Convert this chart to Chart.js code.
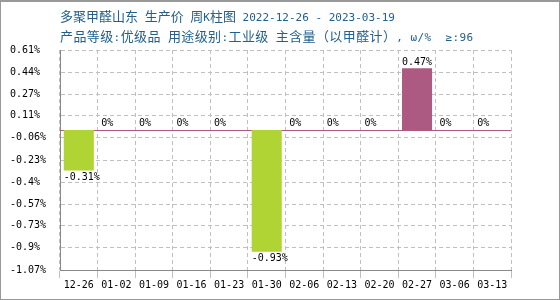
<!DOCTYPE html>
<html>
<head>
<meta charset="utf-8">
<script src="https://cdn.jsdelivr.net/npm/chart.js@4.4.0/dist/chart.umd.min.js"></script>
<style>
  body { margin: 0; background: #fff; }
  #wrap { position: relative; width: 560px; height: 300px; }
  #frame { position: absolute; left: 0; top: 0; width: 558px; height: 297px; border: 1px solid #999; border-top-width: 2px; pointer-events: none; }
  .title { position: absolute; left: 60px; color: #21608f; font-family: "Noto Sans CJK SC", sans-serif; font-size: 13px; white-space: pre; line-height: 16px; }
  .m { font-family: "DejaVu Sans Mono", monospace; font-size: 11px; }
</style>
</head>
<body>
<div id="wrap">
  <canvas id="weekly-chart" width="560" height="300"></canvas>
  <div class="title" style="top:8px">多聚甲醛山东<span class="m"> </span>生产价<span class="m"> </span>周<span class="m">K</span>柱图<span class="m"> 2022-12-26 - 2023-03-19</span></div>
  <div class="title" style="top:28px;letter-spacing:0.4px">产品等级<span class="m">:</span>优级品<span class="m"> </span>用途级别<span class="m">:</span>工业级<span class="m"> </span>主含量（以甲醛计）<span class="m">, ω/%  ≥:96</span></div>
  <div id="frame"></div>
</div>
<script>
const weekLabels = ['12-26', '01-02', '01-09', '01-16', '01-23', '01-30', '02-06', '02-13', '02-20', '02-27', '03-06', '03-13']
const weekChange = [-0.31, 0, 0, 0, 0, -0.93, 0, 0, 0, 0.47, 0, 0]
const yTicks = [-1.07, -0.9, -0.73, -0.57, -0.4, -0.23, -0.06, 0.11, 0.27, 0.44, 0.61]

const upColor = '#ad5a83'
const downColor = '#b0d434'
const gridColor = '#c0c0c0'
const monoFont = { family: 'DejaVu Sans Mono', size: 10 }

// line along zero, under the bars
const zeroLine = {
  id: 'zeroLine',
  beforeDatasetsDraw(chart) {
    const ctx = chart.ctx
    const area = chart.chartArea
    const y = Math.round(chart.scales.y.getPixelForValue(0)) + 0.5
    ctx.save()
    ctx.strokeStyle = upColor
    ctx.lineWidth = 1
    ctx.beginPath()
    ctx.moveTo(area.left, y)
    ctx.lineTo(area.right, y)
    ctx.stroke()
    ctx.restore()
  }
}

// value text at the bar's left edge, above or below
const barValues = {
  id: 'barValues',
  afterDatasetsDraw(chart) {
    const ctx = chart.ctx
    const meta = chart.getDatasetMeta(0)
    ctx.save()
    ctx.font = '10px "DejaVu Sans Mono"'
    ctx.fillStyle = '#000'
    ctx.textAlign = 'left'
    meta.data.forEach((bar, i) => {
      const v = weekChange[i]
      const left = bar.x - bar.width / 2
      if (v < 0) {
        ctx.textBaseline = 'top'
        ctx.fillText(v + '%', left, bar.y + 2)
      } else {
        ctx.textBaseline = 'bottom'
        ctx.fillText(v + '%', left, bar.y - 1)
      }
    })
    ctx.restore()
  }
}

const weekchartconfig = {
  type: 'bar',
  data: {
    labels: weekLabels,
    datasets: [{
      data: weekChange,
      backgroundColor: weekChange.map(v => v < 0 ? downColor : upColor),
      barPercentage: 0.8,
      categoryPercentage: 1
    }]
  },
  options: {
    responsive: false,
    animation: false,
    layout: {
      padding: { top: 50, right: 49, bottom: 0, left: 10 }
    },
    scales: {
      x: {
        border: { color: '#888', dash: [4, 3] },
        grid: { color: gridColor, lineWidth: 1 },
        ticks: {
          color: '#000',
          font: monoFont,
          padding: 1,
          maxRotation: 0,
          autoSkip: false
        },
        afterFit: (axis) => { axis.height = 30 }
      },
      y: {
        min: -1.07,
        max: 0.61,
        border: { color: '#888', dash: [4, 3] },
        grid: { color: gridColor, lineWidth: 1, tickLength: 0 },
        ticks: {
          color: '#000',
          font: monoFont,
          crossAlign: 'far',
          callback: function (value) {
            return value + '%'
          }
        },
        afterBuildTicks: (axis) => {
          axis.ticks = yTicks.map(v => ({ value: v }))
        },
        afterFit: (axis) => { axis.width = 50 }
      }
    },
    plugins: {
      legend: { display: false },
      tooltip: { enabled: false }
    }
  },
  plugins: [zeroLine, barValues]
}

const chartElementWeek = document.getElementById('weekly-chart').getContext('2d')
const chartWeek = new Chart(chartElementWeek, weekchartconfig)
</script>
</body>
</html>
